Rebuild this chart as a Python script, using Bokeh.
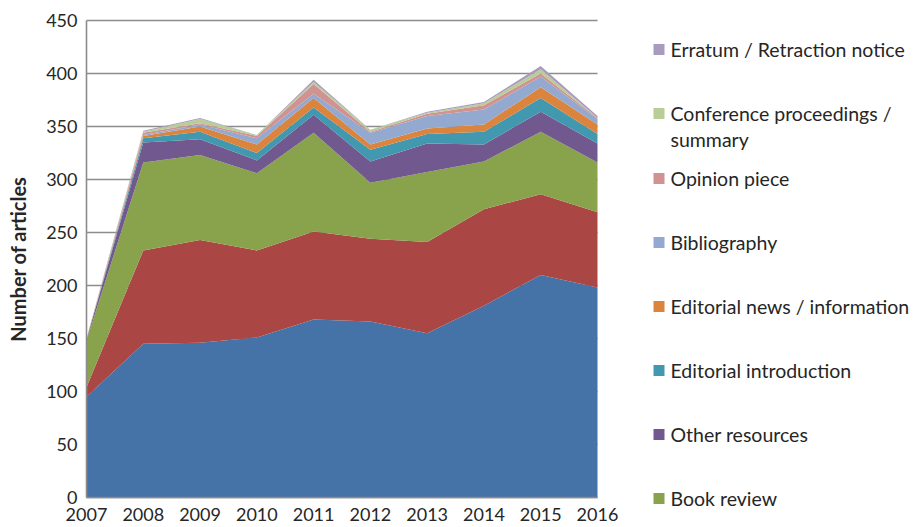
import math
from bokeh.plotting import figure
from bokeh.models import Range1d, FixedTicker, ColumnDataSource
from bokeh.embed import file_html
from bokeh.resources import INLINE
from bokeh.core.properties import value

years = [2007, 2008, 2009, 2010, 2011, 2012, 2013, 2014, 2015, 2016]

research_article = [95, 145, 146, 151, 168, 166, 155, 181, 210, 198]
review_article = [9, 88, 97, 82, 83, 78, 86, 91, 76, 71]
book_review = [44, 83, 80, 73, 93, 53, 66, 45, 59, 47]
other_resources = [1, 19, 15, 12, 17, 20, 27, 16, 19, 18]
editorial_introduction = [0, 4, 7, 7, 7, 11, 9, 12, 13, 9]
editorial_news = [0, 2, 5, 8, 9, 5, 5, 7, 10, 9]
bibliography = [0, 1, 2, 6, 4, 11, 12, 14, 10, 5]
opinion_piece = [1, 2, 1, 2, 9, 1, 2, 4, 3, 1]
conference_proceedings = [0, 1, 4, 1, 2, 2, 1, 2, 4, 0]
erratum = [0, 1, 1, 0, 2, 0, 1, 1, 3, 2]

series_keys = ["research_article", "review_article", "book_review", "other_resources",
               "editorial_introduction", "editorial_news", "bibliography",
               "opinion_piece", "conference_proceedings", "erratum"]
series_values = [research_article, review_article, book_review, other_resources,
                 editorial_introduction, editorial_news, bibliography,
                 opinion_piece, conference_proceedings, erratum]
series_colors = ["#4572A7", "#AA4643", "#89A24C", "#71588F", "#4298AF",
                 "#DB843D", "#93A9CF", "#D09392", "#B9CD96", "#A99BBD"]

# legend entries (top to bottom as shown)
legend_labels = ["Erratum / Retraction notice", "Conference proceedings /\nsummary",
                 "Opinion piece", "Bibliography", "Editorial news / information",
                 "Editorial introduction", "Other resources", "Book review"]
legend_colors = ["#A99BBD", "#B9CD96", "#D09392", "#93A9CF", "#DB843D",
                 "#4298AF", "#71588F", "#89A24C"]

y_ticks = [0, 50, 100, 150, 200, 250, 300, 350, 400, 450]
y_title = "Number of articles"

FONT = "Lato"
TXT = "#262626"
GRID = "#8C8C8C"

# page geometry (pixels); the frame covers the whole canvas
W, H = 914, 527
X_FIRST_PX, X_LAST_PX = 86, 597
TOP_PX, ZERO_PX = 20, 497
px_per_year = (X_LAST_PX - X_FIRST_PX) / (years[-1] - years[0])
px_per_unit = (ZERO_PX - TOP_PX) / y_ticks[-1]
x_start = years[0] - X_FIRST_PX / px_per_year
x_end = years[-1] + (W - X_LAST_PX) / px_per_year
y_start = -(H - ZERO_PX) / px_per_unit
y_end = y_ticks[-1] + TOP_PX / px_per_unit

data = {"year": years}
for k, v in zip(series_keys, series_values):
    data[k] = v
source = ColumnDataSource(data)

p = figure(width=W, height=H, output_backend="svg", toolbar_location=None,
           x_range=Range1d(x_start, x_end), y_range=Range1d(y_start, y_end),
           min_border=0)
p.extra_x_ranges = {"px": Range1d(0, W)}
p.extra_y_ranges = {"py": Range1d(H, 0)}

# horizontal gridlines, only across the data span
p.segment(x0=[years[0]] * len(y_ticks), x1=[years[-1]] * len(y_ticks),
          y0=y_ticks, y1=y_ticks, line_color=GRID, line_width=1.3)

p.varea_stack(stackers=series_keys, x="year", color=series_colors, source=source)

p.outline_line_color = None
p.grid.visible = False

p.xaxis.ticker = FixedTicker(ticks=years)
p.yaxis.ticker = FixedTicker(ticks=y_ticks)
p.xaxis.fixed_location = 0
p.yaxis.fixed_location = years[0]
p.xaxis.bounds = (years[0], years[-1])
p.yaxis.bounds = (0, y_ticks[-1])
for ax in (p.xaxis, p.yaxis):
    ax.axis_line_color = GRID
    ax.axis_line_width = 1.6
    ax.major_tick_line_color = None
    ax.minor_tick_line_color = None
    ax.major_tick_out = 0
    ax.major_tick_in = 0
    ax.minor_tick_out = 0
    ax.major_label_text_font = FONT
    ax.major_label_text_font_size = "18px"
    ax.major_label_text_color = TXT
p.xaxis.major_label_standoff = 10
p.yaxis.major_label_standoff = 9

# y-axis title
p.text(x=[17.5], y=[(TOP_PX + ZERO_PX) / 2], text=[y_title], angle=math.pi / 2,
       text_align="center", text_baseline="middle", text_font=value(FONT),
       text_font_style="bold", text_font_size="20px", text_color=TXT,
       x_range_name="px", y_range_name="py")

# legend (positions in page pixels)
LEG_SQ_X, LEG_TX_X = 658.5, 670
leg_y = [49, 113, 178, 242, 306, 370, 434, 498]
LINE_STEP = 26
sq_x, sq_y, sq_c = [], [], []
tx, ty, tt = [], [], []
for lab, col, yc in zip(legend_labels, legend_colors, leg_y):
    sq_x.append(LEG_SQ_X)
    sq_y.append(yc)
    sq_c.append(col)
    for j, line in enumerate(lab.split("\n")):
        tx.append(LEG_TX_X)
        ty.append(yc + j * LINE_STEP)
        tt.append(line)
p.rect(x=sq_x, y=sq_y, width=11, height=11, fill_color=sq_c, line_color=None,
       x_range_name="px", y_range_name="py")
p.text(x=tx, y=ty, text=tt, text_baseline="middle", text_align="left",
       text_font=value(FONT), text_font_size="19.5px", text_color=TXT,
       x_range_name="px", y_range_name="py")

open("out.html", "w").write(file_html(p, INLINE))
